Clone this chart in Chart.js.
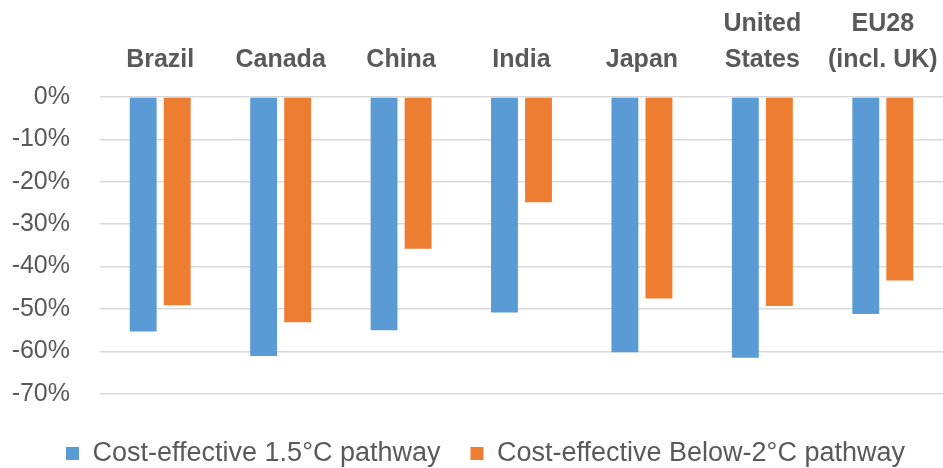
<!DOCTYPE html>
<html>
<head>
<meta charset="utf-8">
<script src="https://cdn.jsdelivr.net/npm/chart.js@4/dist/chart.umd.min.js"></script>
<style>
  html, body { margin: 0; padding: 0; background: #fff; }
  #wrap { width: 943px; height: 468px; }
</style>
</head>
<body>
<div id="wrap"><canvas id="chart"></canvas></div>
<script>
// Reduction vs. base, by region
const regions = ['Brazil', 'Canada', 'China', 'India', 'Japan', ['United', 'States'], ['EU28', '(incl. UK)']];
const pathway15 = [-55.3, -61.1, -55.0, -50.8, -60.2, -61.5, -51.2];
const pathwayBelow2 = [-49.1, -53.1, -35.8, -24.8, -47.5, -49.3, -43.3];
const seriesNames = ['Cost-effective 1.5°C pathway', 'Cost-effective Below-2°C pathway'];
const yTicks = [0, -10, -20, -30, -40, -50, -60, -70];

const FONT = '"Liberation Sans", Arial, sans-serif';
const TEXT = '#595959';

// legend sits a bit right of centre in the original
const legendShift = {
  id: 'legendShift',
  afterLayout: function (chart) {
    if (chart.legend) {
      chart.legend.left += 14;
      chart.legend.right += 14;
    }
  },
};

new Chart(document.getElementById('chart'), {
  type: 'bar',
  data: {
    labels: regions,
    datasets: [
      {
        label: seriesNames[0],
        data: pathway15,
        backgroundColor: '#5b9bd5',
        categoryPercentage: 0.565,
        barPercentage: 0.79,
      },
      {
        label: seriesNames[1],
        data: pathwayBelow2,
        backgroundColor: '#ed7d31',
        categoryPercentage: 0.565,
        barPercentage: 0.79,
      },
    ],
  },
  plugins: [legendShift],
  options: {
    responsive: true,
    maintainAspectRatio: false,
    animation: false,
    layout: { padding: { top: 0, right: 0, bottom: -9, left: 0 } },
    plugins: {
      legend: {
        position: 'bottom',
        title: {
          // empty spacer above the legend items
          display: true,
          text: ' ',
          font: { size: 1 },
          padding: { top: 0, bottom: 15 },
        },
        labels: {
          boxWidth: 13,
          boxHeight: 13,
          padding: 30,
          color: TEXT,
          font: { family: FONT, size: 27 },
        },
      },
      tooltip: { enabled: false },
    },
    scales: {
      x: {
        position: 'top',
        grid: { display: false, drawTicks: false },
        border: { display: false },
        ticks: {
          color: TEXT,
          padding: 19,
          maxRotation: 0,
          autoSkip: false,
          font: { family: FONT, size: 25, weight: 'bold', lineHeight: 1.45 },
        },
        afterFit: function (scale) {
          scale.height = 97;
          scale.paddingLeft = 0;
          scale.paddingRight = 0;
        },
      },
      y: {
        min: -70,
        max: 0,
        grid: { color: '#d9d9d9', lineWidth: 1.5, drawTicks: false },
        border: { display: false },
        afterBuildTicks: function (scale) {
          scale.ticks = yTicks.map(function (v) { return { value: v }; });
        },
        ticks: {
          color: TEXT,
          padding: 30,
          font: { family: FONT, size: 25 },
          callback: function (value) {
            return value + '%';
          },
        },
        afterFit: function (scale) {
          scale.width = 100;
        },
      },
    },
  },
});
</script>
</body>
</html>
